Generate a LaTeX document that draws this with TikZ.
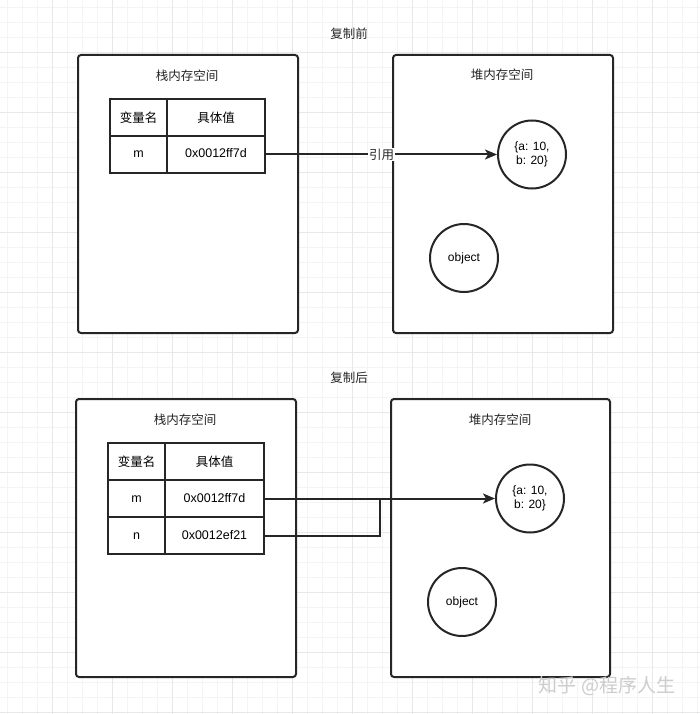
\documentclass[tikz,border=0pt]{standalone}
\usepackage{fontspec}
\setmainfont{Liberation Sans}
\newfontfamily\cjk{Noto Sans CJK SC}
\usetikzlibrary{arrows.meta}
\tikzset{
	gridminor/.style={gray!9, line width=0.5pt},
	gridmajor/.style={gray!18, line width=0.6pt},
	membox/.style={shape=rectangle, draw=black!85, fill=white, line width=2pt, rounded corners=3pt},
	cell/.style={shape=rectangle, draw=black!85, line width=2pt, minimum height=37pt, inner sep=0pt, text height=9.5pt, text depth=2.5pt, font=\fontsize{12.5}{15}\selectfont},
	headcell/.style={cell, text height=11pt, text depth=1.5pt, font=\cjk\fontsize{12.5}{15}\selectfont},
	zhtext/.style={font=\cjk\fontsize{12.5}{15}\selectfont, text=black!85},
	objnode/.style={shape=circle, draw=black!85, fill=white, line width=2pt, minimum size=68pt, inner sep=0pt, align=center, font=\fontsize{12}{14}\selectfont},
	wire/.style={draw=black!85, line width=2pt},
	refarrow/.style={wire, -{Stealth[length=12pt, width=10pt, inset=3pt]}}
}
\begin{document}
\begin{tikzpicture}[x=1pt, y=-1pt]
	\useasboundingbox[fill=white] (0, 0) rectangle (700, 714);
	% Background grid:
	\foreach \gx in {7, 22, ..., 697} \draw[gridminor] (\gx, 0) -- (\gx, 714);
	\foreach \gy in {7, 22, ..., 712} \draw[gridminor] (0, \gy) -- (700, \gy);
	\foreach \gx in {52, 112, ..., 652} \draw[gridmajor] (\gx, 0) -- (\gx, 714);
	\foreach \gy in {52, 112, ..., 712} \draw[gridmajor] (0, \gy) -- (700, \gy);
	% Before copy:
	\node[zhtext](title1) at (349, 34){复制前};
	\draw[membox] (78, 55) rectangle (298, 333);
	\draw[membox] (393, 55) rectangle (613, 333);
	\node[zhtext](stack1) at (187, 76){栈内存空间};
	\node[zhtext](heap1) at (502, 75){堆内存空间};
	\node[headcell, minimum width=57pt](name1) at (138.5, 117.5){变量名};
	\node[headcell, minimum width=98pt](value1) at (216, 117.5){具体值};
	\node[cell, minimum width=57pt](m1) at (138.5, 154.5){m};
	\node[cell, minimum width=98pt](m1val) at (216, 154.5){0x0012ff7d};
	\node[objnode](obj1) at (532, 154.5){\{a: 10,\\ b: 20\}};
	\node[objnode](other1) at (464, 258){object};
	\draw[refarrow] (m1val.east) -- node[zhtext, fill=white, inner sep=1pt]{引用} (obj1.west);
	% After copy:
	\node[zhtext](title2) at (349, 378){复制后};
	\draw[membox] (76, 399) rectangle (296, 677);
	\draw[membox] (391, 399) rectangle (610, 677);
	\node[zhtext](stack2) at (185, 420){栈内存空间};
	\node[zhtext](heap2) at (500, 420){堆内存空间};
	\node[headcell, minimum width=57pt](name2) at (136.5, 461.5){变量名};
	\node[headcell, minimum width=99pt](value2) at (214.5, 461.5){具体值};
	\node[cell, minimum width=57pt](m2) at (136.5, 498.5){m};
	\node[cell, minimum width=99pt](m2val) at (214.5, 498.5){0x0012ff7d};
	\node[cell, minimum width=57pt](n2) at (136.5, 535.5){n};
	\node[cell, minimum width=99pt](n2val) at (214.5, 535.5){0x0012ef21};
	\node[objnode](obj2) at (530, 498.5){\{a: 10,\\ b: 20\}};
	\node[objnode](other2) at (462, 602){object};
	\coordinate (join2) at (380, 498.5);
	\draw[refarrow] (m2val.east) -- (obj2.west);
	\draw[wire] (n2val.east) -| (join2);
	% Watermark:
	\node[font=\cjk\fontsize{19}{22}\selectfont, text=gray!40](mark) at (607, 686){知乎 @程序人生};
\end{tikzpicture}
\end{document}
